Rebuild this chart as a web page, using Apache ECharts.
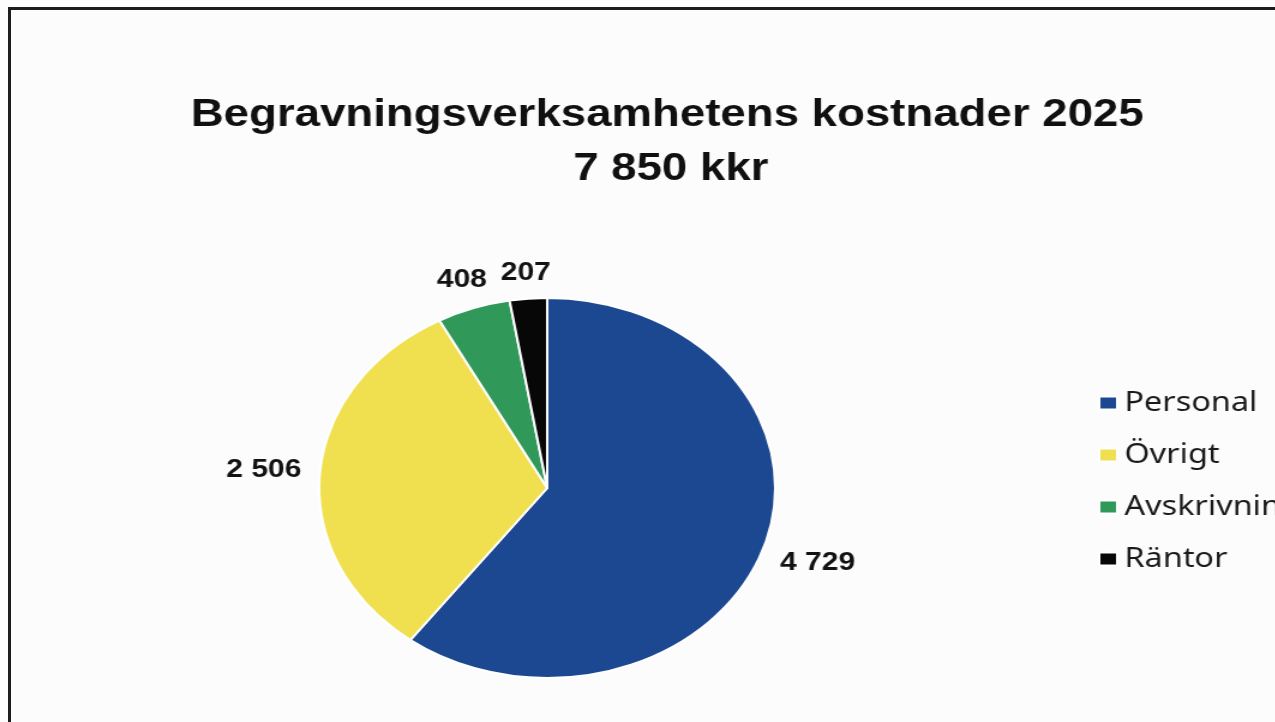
<!DOCTYPE html>
<html>
<head>
<meta charset="utf-8">
<script src="https://cdn.jsdelivr.net/npm/echarts@6/dist/echarts.min.js"></script>
<style>
  html, body { margin:0; padding:0; width:1275px; height:722px; overflow:hidden; background:#fcfcfc; }
  #frame { position:absolute; left:8px; top:7px; width:1400px; height:800px; border-left:3px solid #1c1c1c; border-top:3px solid #1c1c1c; }
  #chart { position:absolute; left:0; top:0; width:1150px; height:722px; transform:scaleX(1.2); transform-origin:0 0; }
</style>
</head>
<body>
<div id="frame"></div>
<div id="chart"></div>
<script>
const titleLines = ['Begravningsverksamhetens kostnader 2025', '7 850 kkr'];
const categories = ['Personal', 'Övrigt', 'Avskrivningar', 'Räntor'];
const values = [4729, 2506, 408, 207];
const colors = ['#1b4890', '#f0e050', '#30995a', '#070707'];

const CX = 456, CY = 488, R = 190, GAP = 15;
const total = values.reduce((a, b) => a + b, 0);
const midAngles = [];
let acc = 0;
values.forEach(v => { midAngles.push((acc + v / 2) / total * 2 * Math.PI); acc += v; });

function fmt(n) { return String(n).replace(/\B(?=(\d{3})+(?!\d))/g, ' '); }

const chart = echarts.init(document.getElementById('chart'), null, { renderer: 'canvas' });
chart.setOption({
  backgroundColor: 'transparent',
  animation: false,
  title: [
    { text: titleLines[0], left: 551, top: 92, textAlign: 'center',
      textStyle: { fontFamily: 'Liberation Sans', fontWeight: 'bold', fontSize: 38, color: '#101010' } },
    { text: titleLines[1], left: 554, top: 146, textAlign: 'center',
      textStyle: { fontFamily: 'Liberation Sans', fontWeight: 'bold', fontSize: 38, color: '#101010' } }
  ],
  legend: {
    orient: 'vertical', left: 910, top: 383, itemGap: 22,
    itemWidth: 15, itemHeight: 13, icon: 'rect',
    data: categories,
    textStyle: { fontFamily: 'Noto Sans', fontSize: 27, color: '#1a1a1a', lineHeight: 30, padding: [0, 0, 0, 1] }
  },
  series: [{
    type: 'pie',
    center: [CX, CY],
    radius: [0, R],
    startAngle: 90,
    clockwise: true,
    avoidLabelOverlap: false,
    itemStyle: { borderColor: '#ffffff', borderWidth: 2 },
    label: {
      show: true, position: 'outside',
      formatter: p => fmt(p.value),
      fontFamily: 'Liberation Sans', fontWeight: 'bold', fontSize: 25, color: '#121212'
    },
    labelLine: { show: false },
    labelLayout: function (p) {
      const a = midAngles[p.dataIndex];
      const dx = Math.sin(a), dy = -Math.cos(a);
      const hw = p.labelRect.width / 2, hh = p.labelRect.height / 2;
      const d = R + GAP + hw * Math.abs(dx) + hh * Math.abs(dy) * 0.7;
      return { x: CX + d * dx, y: CY + d * dy, align: 'center', verticalAlign: 'middle' };
    },
    data: categories.map((c, i) => ({ name: c, value: values[i], itemStyle: { color: colors[i] } }))
  }]
});
</script>
</body>
</html>
